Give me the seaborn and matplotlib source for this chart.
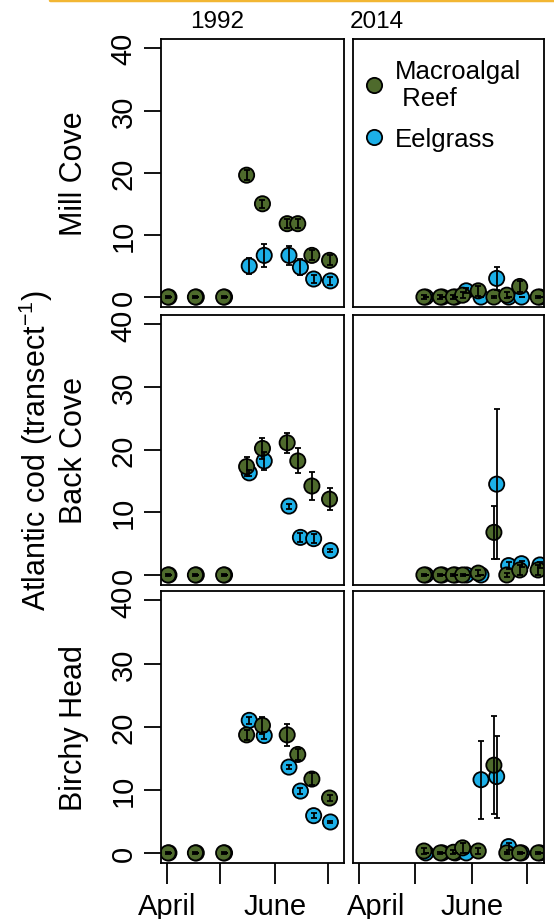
import matplotlib
matplotlib.use("Agg")
import matplotlib.pyplot as plt
import numpy as np
import pandas as pd
import seaborn as sns
from matplotlib.lines import Line2D
from matplotlib.transforms import ScaledTranslation

sns.set_style("white")
plt.rcParams["font.family"] = ["Liberation Sans", "DejaVu Sans"]
plt.rcParams["mathtext.fontset"] = "custom"
plt.rcParams["mathtext.rm"] = "Liberation Sans"
plt.rcParams["mathtext.it"] = "Liberation Sans"
for k in ["text.color", "axes.labelcolor", "xtick.color", "ytick.color"]:
    plt.rcParams[k] = "black"

# ---------------- data ----------------
sites = ["Mill Cove", "Back Cove", "Birchy Head"]
years = ["1992", "2014"]
habitats = ["Macroalgal Reef", "Eelgrass"]
month_ticks = [0, 30, 61, 91]          # days since 1 April
month_labels = ["April", "", "June", ""]

# sampling days (days since 1 April)
days_1992_reef = [0.5, 16, 32, 45, 54, 68, 74, 82, 92]
days_1992_eel = [1, 16.5, 32.5, 46.5, 55, 69, 75.5, 83, 92.5]
days_2014_reef = [35, 44, 51, 56, 64.5, 73, 80, 87, 97]
days_2014_eel = [36, 45, 52, 58, 66, 74.5, 81, 88, 98]

# mean cod per transect and standard error
mill_1992_reef = [0, 0, 0, 19.6, 15.0, 11.8, 11.8, 6.7, 5.9]
mill_1992_reef_se = [0.2, 0.2, 0.2, 0.8, 0.6, 0.7, 0.7, 0.8, 0.8]
mill_1992_eel = [0, 0, 0, 5.0, 6.7, 6.7, 4.8, 2.9, 2.6]
mill_1992_eel_se = [0, 0, 0, 1.3, 1.9, 1.5, 1.3, 0.6, 0.6]

back_1992_reef = [0, 0, 0, 17.3, 20.2, 21.1, 18.2, 14.2, 12.1]
back_1992_reef_se = [0.2, 0.2, 0.2, 1.5, 1.7, 1.6, 2.0, 2.3, 1.8]
back_1992_eel = [0, 0, 0, 16.3, 18.2, 11.0, 6.0, 5.8, 3.9]
back_1992_eel_se = [0, 0, 0, 0.5, 1.4, 0.4, 0.7, 0.7, 0.3]

birchy_1992_reef = [0, 0, 0, 18.7, 20.2, 18.7, 15.6, 11.7, 8.7]
birchy_1992_reef_se = [0.2, 0.2, 0.2, 0.8, 1.3, 1.7, 0.9, 0.9, 0.4]
birchy_1992_eel = [0, 0, 0, 21.0, 18.6, 13.6, 9.8, 5.9, 4.9]
birchy_1992_eel_se = [0, 0, 0, 0.5, 0.5, 0.3, 0.5, 0.4, 0.2]

mill_2014_reef = [0, 0, 0, 0.3, 1.0, 0, 0.3, 1.7, 0]
mill_2014_reef_se = [0.3, 0.3, 0.3, 0.5, 0.8, 0.2, 0.5, 0.9, 0.2]
mill_2014_eel = [0, 0, 0, 1.0, 0, 3.0, 0, 0, 0]
mill_2014_eel_se = [0, 0, 0, 0.4, 0, 1.9, 0, 0, 0]

back_2014_reef = [0, 0, 0, 0, 0.3, 6.8, 0, 0.8, 0.8]
back_2014_reef_se = [0.2, 0.2, 0.2, 0.2, 0.5, 4.2, 0.3, 0.8, 0.8]
back_2014_eel = [0, 0, 0, 0, 0, 14.5, 1.5, 1.8, 1.6]
back_2014_eel_se = [0, 0, 0, 0, 0, 12.0, 0.5, 0.5, 0.5]

birchy_2014_reef = [0.3, 0, 0.1, 0.8, 0.3, 13.9, 0, 0, 0]
birchy_2014_reef_se = [0.5, 0.2, 0.3, 0.8, 0.4, 7.8, 0.2, 0.2, 0.2]
birchy_2014_eel = [0, 0, 0, 0, 11.6, 12.1, 1.0, 0, 0]
birchy_2014_eel_se = [0, 0, 0, 0, 6.2, 6.5, 0.5, 0, 0]

series = {
    ("Mill Cove", "1992"): (mill_1992_reef, mill_1992_reef_se, mill_1992_eel, mill_1992_eel_se),
    ("Back Cove", "1992"): (back_1992_reef, back_1992_reef_se, back_1992_eel, back_1992_eel_se),
    ("Birchy Head", "1992"): (birchy_1992_reef, birchy_1992_reef_se, birchy_1992_eel, birchy_1992_eel_se),
    ("Mill Cove", "2014"): (mill_2014_reef, mill_2014_reef_se, mill_2014_eel, mill_2014_eel_se),
    ("Back Cove", "2014"): (back_2014_reef, back_2014_reef_se, back_2014_eel, back_2014_eel_se),
    ("Birchy Head", "2014"): (birchy_2014_reef, birchy_2014_reef_se, birchy_2014_eel, birchy_2014_eel_se),
}
days = {"1992": (days_1992_reef, days_1992_eel), "2014": (days_2014_reef, days_2014_eel)}

rows = []
for (site, yr), (rv, rse, ev, ese) in series.items():
    dr, de = days[yr]
    # eelgrass first so reef points are drawn on top
    for d, v, s in zip(de, ev, ese):
        rows.append(dict(site=site, year=yr, habitat="Eelgrass", day=d, cod=v, se=s))
    for d, v, s in zip(dr, rv, rse):
        rows.append(dict(site=site, year=yr, habitat="Macroalgal Reef", day=d, cod=v, se=s))
df = pd.DataFrame(rows)

# ---------------- styling ----------------
GREEN = "#4E6A2C"
BLUE = "#1CB0E8"
palette = {"Macroalgal Reef": GREEN, "Eelgrass": BLUE}

W, H = 554, 920
fig = plt.figure(figsize=(W / 100, H / 100), dpi=100)

col_x = [(161, 344), (353, 544)]
row_y = [(40, 308), (316, 586), (592, 864)]

def box(x0, x1, y0, y1):
    return [x0 / W, 1 - y1 / H, (x1 - x0) / W, (y1 - y0) / H]

axes = {}
for ri, site in enumerate(sites):
    for ci, yr in enumerate(years):
        ax = fig.add_axes(box(*col_x[ci], *row_y[ri]))
        axes[(site, yr)] = ax
        sub = df[(df.site == site) & (df.year == yr)]
        sns.scatterplot(data=sub, x="day", y="cod", hue="habitat", palette=palette,
                        s=120, edgecolor="black", linewidth=1.3, legend=False,
                        ax=ax, zorder=2)
        for hab in ["Eelgrass", "Macroalgal Reef"]:
            h = sub[sub.habitat == hab]
            ax.errorbar(h["day"], h["cod"], yerr=h["se"], fmt="none", ecolor="black",
                        elinewidth=1.3, capsize=2.5, capthick=1.3, zorder=3)
        ax.set_xlim(-3.5, 100.2)
        ax.set_ylim(-1.6, 41.5)
        ax.set_xlabel("")
        ax.set_ylabel("")
        for sp in ax.spines.values():
            sp.set_color("black")
            sp.set_linewidth(1.3)
        ax.set_xticks(month_ticks)
        ax.set_yticks([0, 10, 20, 30, 40])
        ax.tick_params(axis="both", colors="black", width=1.3)
        if ci == 0:
            ax.tick_params(axis="y", left=True, length=12, pad=5, labelsize=21)
            for lab in ax.get_yticklabels():
                lab.set_rotation(90)
                lab.set_va("center")
        else:
            ax.tick_params(axis="y", left=False, labelleft=False)
        if ri == 2:
            ax.set_xticklabels(month_labels)
            ax.tick_params(axis="x", bottom=True, length=15, pad=6, labelsize=21)
            if ci == 1:
                lab = ax.get_xticklabels()[0]
                lab.set_transform(lab.get_transform() + ScaledTranslation(17 / 100, 0, fig.dpi_scale_trans))
        else:
            ax.tick_params(axis="x", bottom=False, labelbottom=False)

# legend
handles = [
    Line2D([], [], marker="o", linestyle="none", markerfacecolor=GREEN, markeredgecolor="black",
           markeredgewidth=1.3, markersize=11),
    Line2D([], [], marker="o", linestyle="none", markerfacecolor=BLUE, markeredgecolor="black",
           markeredgewidth=1.3, markersize=11),
]
axes[("Mill Cove", "2014")].legend(handles, ["Macroalgal\n Reef", "Eelgrass"], loc="upper left",
                                   bbox_to_anchor=(-0.01, 0.965), borderaxespad=0,
                                   frameon=False, fontsize=18.5, handletextpad=0.3,
                                   labelspacing=0.65, handlelength=1.0)

# row labels & axis label
for ri, site in enumerate(sites):
    yc = (row_y[ri][0] + row_y[ri][1]) / 2
    fig.text(74 / W, 1 - yc / H, site, rotation=90, ha="center", va="center", fontsize=22)
fig.text(36 / W, 1 - 451 / H, "Atlantic cod (transect$^{-1}$)", rotation=90,
         ha="center", va="center", fontsize=22)

# year labels
fig.text(190 / W, 1 - 22 / H, "1992", ha="left", va="center", fontsize=17.5)
fig.text(350 / W, 1 - 22 / H, "2014", ha="left", va="center", fontsize=17.5)

# thin golden rule at top
fig.add_artist(Line2D([50 / W, 1], [1 - 1.2 / H, 1 - 1.2 / H], color="#F2B633", lw=2.5,
                      transform=fig.transFigure))

fig.savefig("out.png", dpi=100)
